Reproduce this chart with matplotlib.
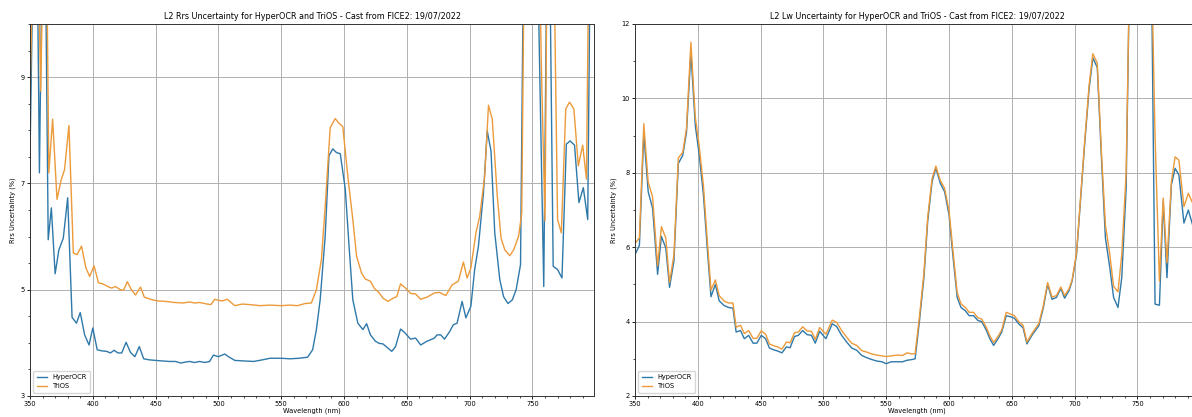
import matplotlib
matplotlib.use('Agg')
import matplotlib.pyplot as plt
from matplotlib.ticker import MultipleLocator

# --- L2 Rrs uncertainty (left panel) ---
wl_rrs_hyper = [350, 353, 355.5, 357.5, 360, 362, 364.5, 367, 370, 373, 376.5, 380, 383.5, 387, 390,
                393.5, 397, 400, 403.5, 407, 411, 414, 417, 420, 423, 426.5, 430, 433.5, 437, 440.5,
                445, 450, 455, 461, 466, 470, 474, 477, 481, 485, 489, 493, 496, 500, 505, 508, 513,
                520, 528, 535, 541, 550, 557, 564, 571, 575, 578, 581, 585, 588, 591, 594, 597, 601,
                604, 607, 611, 615, 618, 621, 625, 628, 631, 635, 638, 641, 645, 648, 653, 657, 661,
                666, 672, 674, 677, 680, 684, 687, 690, 694, 697, 701, 704, 707, 711, 714, 717, 720,
                724, 727, 730.5, 734, 737, 740.5, 744, 748, 752, 756, 759, 762.5, 766.5, 770, 773.5,
                777, 780, 783.5, 787, 790.5, 794, 797]
rrs_hyper = [7.5, 12, 12, 7.2, 12, 12, 5.94, 6.54, 5.30, 5.75, 5.97, 6.73, 4.48, 4.37, 4.57,
             4.15, 3.96, 4.28, 3.87, 3.85, 3.84, 3.81, 3.86, 3.81, 3.81, 4.01, 3.82, 3.74, 3.93, 3.70,
             3.68, 3.67, 3.66, 3.65, 3.65, 3.62, 3.64, 3.65, 3.63, 3.65, 3.63, 3.65, 3.77, 3.74, 3.79,
             3.74, 3.67, 3.66, 3.65, 3.68, 3.71, 3.71, 3.70, 3.71, 3.73, 3.87, 4.25, 4.81, 6.01, 7.52,
             7.65, 7.58, 7.56, 6.89, 5.82, 4.81, 4.37, 4.25, 4.36, 4.15, 4.03, 3.99, 3.98, 3.90, 3.84,
             3.93, 4.26, 4.20, 4.07, 4.09, 3.96, 4.03, 4.09, 4.15, 4.15, 4.07, 4.21, 4.34, 4.37, 4.78,
             4.47, 4.69, 5.38, 5.82, 6.82, 7.99, 7.61, 6.07, 5.19, 4.87, 4.74, 4.81, 5.00, 5.47, 14,
             16, 14, 8.84, 5.06, 14, 5.44, 5.38, 5.22, 7.74, 7.80, 7.72, 6.64, 6.92, 6.32, 14]

wl_rrs_trios = [350, 353, 356, 358.5, 361, 363, 365, 368, 371.5, 374.5, 377.5, 381, 384.5, 387.5, 391,
                394.5, 397.5, 401, 404.5, 408, 412, 415, 418, 422, 424.5, 427.5, 430.5, 434, 438, 441,
                446, 451, 458, 465, 472, 477, 481, 485, 491, 494, 497, 500, 503, 507, 513, 519, 525,
                533, 541, 550, 557, 563, 569, 574, 578, 582, 585, 589, 593, 596, 599, 603, 607, 610,
                614, 617, 621, 624, 628, 631, 635, 639, 642, 645, 649, 653, 657, 661, 666, 672, 676,
                681, 686, 691, 695, 698, 701, 705, 708, 712, 715, 718, 722, 725, 728, 732, 735, 739,
                741.5, 744.5, 750, 754, 757, 760, 762.5, 765.5, 770, 773, 776.5, 779.5, 783, 786.5,
                790, 793, 796]
rrs_trios = [8.6, 12, 12, 8.74, 12, 12, 7.20, 8.21, 6.70, 7.04, 7.26, 8.09, 5.69, 5.66, 5.82,
             5.41, 5.25, 5.45, 5.13, 5.11, 5.06, 5.03, 5.06, 5.00, 4.99, 5.15, 5.01, 4.90, 5.05, 4.86,
             4.82, 4.79, 4.78, 4.76, 4.75, 4.77, 4.75, 4.76, 4.73, 4.72, 4.82, 4.80, 4.79, 4.82, 4.70,
             4.73, 4.72, 4.70, 4.71, 4.70, 4.71, 4.70, 4.74, 4.75, 5.00, 5.57, 6.57, 8.05, 8.22, 8.13,
             8.07, 7.14, 6.32, 5.63, 5.31, 5.20, 5.16, 5.03, 4.94, 4.84, 4.78, 4.84, 4.87, 5.11, 5.03,
             4.93, 4.92, 4.82, 4.86, 4.94, 4.95, 4.89, 5.09, 5.16, 5.52, 5.22, 5.41, 6.07, 6.38, 7.14,
             8.47, 8.21, 6.76, 5.97, 5.75, 5.64, 5.75, 6.01, 6.45, 14, 16, 14, 9.3, 6.3, 14, 14,
             6.32, 6.07, 8.40, 8.53, 8.40, 7.33, 7.72, 7.08, 14]

# --- L2 Lw uncertainty (right panel) ---
wl_lw = [350, 353.5, 357, 360.5, 364, 368, 371, 374.5, 377.5, 381, 384.5, 388, 391, 394.5, 398,
         401, 404.5, 407.5, 410.5, 414, 417, 421, 424.5, 428, 430.5, 434, 437, 440.5, 444, 447,
         450.5, 454, 457, 460.5, 463.5, 467, 470.5, 473.5, 477, 480, 483.5, 487, 490.5, 493.5, 497,
         502, 507, 510.5, 514.5, 518.5, 522.5, 526.5, 530.5, 534.5, 538.5, 542.5, 546.5, 550, 554,
         558.5, 563, 566.5, 570.5, 573, 576.5, 580, 583, 586.5, 589.5, 593, 596.5, 600, 603, 606.5,
         609.5, 613, 616, 619.5, 623, 626, 629.5, 632.5, 635.5, 639, 642, 645.5, 649, 652, 655.5,
         659, 662, 666, 671.5, 675, 678.5, 682, 685.5, 689, 692, 695.5, 698, 701.5, 705, 708,
         711.5, 714.5, 718, 721.5, 724.5, 728, 731, 734.5, 737.5, 741, 744, 750, 757, 761, 764,
         767.5, 770.5, 773.5, 777, 780, 783, 787, 790.5, 794, 797]
lw_hyper = [5.80, 6.05, 9.05, 7.49, 7.05, 5.27, 6.29, 5.98, 4.92, 5.63, 8.25, 8.47, 9.09, 11.23, 9.27,
            8.52, 7.40, 5.98, 4.67, 5.00, 4.56, 4.43, 4.38, 4.36, 3.72, 3.76, 3.54, 3.63, 3.42, 3.42,
            3.63, 3.54, 3.29, 3.24, 3.21, 3.16, 3.32, 3.30, 3.60, 3.63, 3.76, 3.65, 3.63, 3.42, 3.74,
            3.54, 3.94, 3.87, 3.63, 3.45, 3.29, 3.23, 3.09, 3.03, 2.98, 2.94, 2.92, 2.87, 2.92,
            2.92, 2.92, 2.96, 2.98, 3.00, 4.03, 5.18, 6.69, 7.76, 8.13, 7.72, 7.49, 6.87, 5.80, 4.65,
            4.38, 4.29, 4.16, 4.16, 4.03, 4.00, 3.78, 3.54, 3.36, 3.54, 3.72, 4.16, 4.13, 4.09, 3.94,
            3.83, 3.40, 3.63, 3.89, 4.36, 5.00, 4.60, 4.65, 4.89, 4.63, 4.83, 5.09, 5.80, 7.40, 8.78,
            10.25, 11.09, 10.83, 8.29, 6.25, 5.45, 4.65, 4.38, 5.18, 7.58, 14, 16, 16, 14, 4.47,
            4.44, 7.23, 5.18, 7.67, 8.12, 7.94, 6.65, 7.00, 6.59, 6.90]
lw_trios = [6.10, 6.25, 9.32, 7.75, 7.35, 5.50, 6.55, 6.25, 5.05, 5.80, 8.40, 8.55, 9.20, 11.51, 9.50,
            8.75, 7.65, 6.20, 4.85, 5.12, 4.70, 4.55, 4.50, 4.50, 3.85, 3.90, 3.68, 3.76, 3.55, 3.55,
            3.75, 3.66, 3.40, 3.35, 3.32, 3.26, 3.45, 3.43, 3.70, 3.72, 3.86, 3.75, 3.74, 3.52, 3.84,
            3.66, 4.04, 3.98, 3.76, 3.58, 3.42, 3.36, 3.22, 3.18, 3.13, 3.10, 3.08, 3.06, 3.08,
            3.10, 3.09, 3.16, 3.13, 3.14, 4.15, 5.30, 6.80, 7.85, 8.18, 7.80, 7.58, 6.98, 5.95, 4.78,
            4.48, 4.38, 4.25, 4.25, 4.10, 4.07, 3.86, 3.62, 3.44, 3.60, 3.78, 4.25, 4.20, 4.16, 4.00,
            3.90, 3.45, 3.68, 3.95, 4.42, 5.05, 4.66, 4.70, 4.93, 4.70, 4.88, 5.12, 5.85, 7.45, 8.85,
            10.35, 11.20, 10.95, 8.45, 6.60, 5.80, 4.95, 4.80, 5.80, 8.00, 14, 16, 16, 14, 9.00,
            5.09, 7.32, 5.58, 7.76, 8.43, 8.34, 7.09, 7.45, 7.18, 7.50]

blue = '#2f79aa'
orange = '#ec9a3a'
fs = 4.8

fig = plt.figure(figsize=(11.92, 4.17), dpi=100)
ax1 = fig.add_axes([30 / 1192, 21 / 417, 564 / 1192, 372 / 417])
ax2 = fig.add_axes([635 / 1192, 21 / 417, 564 / 1192, 372 / 417])


def style(ax, title, ylim, ymajor, yminor):
    ax.set_xlim(350, 799)
    ax.set_ylim(*ylim)
    ax.xaxis.set_major_locator(MultipleLocator(50))
    ax.xaxis.set_minor_locator(MultipleLocator(10))
    ax.yaxis.set_major_locator(MultipleLocator(ymajor))
    ax.yaxis.set_minor_locator(MultipleLocator(yminor))
    ax.grid(True, color='#b0b0b0', lw=0.7)
    ax.tick_params(labelsize=fs, length=2.5, width=0.6, pad=1.2)
    ax.tick_params(which='minor', length=1.5, width=0.5)
    ax.set_title(title, fontsize=5.8, pad=3.5)
    ax.set_xlabel('Wavelength (nm)', fontsize=fs, labelpad=0.5)
    ax.set_ylabel('Rrs Uncertainty (%)', fontsize=fs, labelpad=3)
    for s in ax.spines.values():
        s.set_linewidth(0.7)
        s.set_color('#333333')
    ax.legend(loc='lower left', fontsize=fs, handlelength=1.6, borderpad=0.5, labelspacing=0.5)


ax1.plot(wl_rrs_hyper, rrs_hyper, color=blue, lw=1.0, label='HyperOCR')
ax1.plot(wl_rrs_trios, rrs_trios, color=orange, lw=1.0, label='TriOS')
style(ax1, 'L2 Rrs Uncertainty for HyperOCR and TriOS - Cast from FICE2: 19/07/2022', (3, 10), 2, 0.5)
ax1.set_yticks([3, 5, 7, 9])

ax2.plot(wl_lw, lw_hyper, color=blue, lw=1.0, label='HyperOCR')
ax2.plot(wl_lw, lw_trios, color=orange, lw=1.0, label='TriOS')
style(ax2, 'L2 Lw Uncertainty for HyperOCR and TriOS - Cast from FICE2: 19/07/2022', (2, 12), 2, 1)

fig.savefig('out.png', dpi=100)
